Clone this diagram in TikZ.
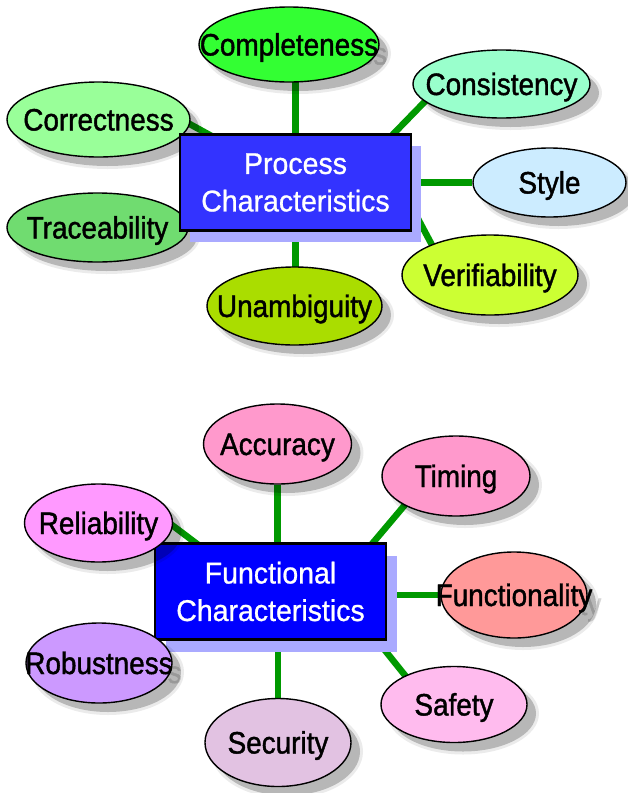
\documentclass[tikz,border=0pt]{standalone}
\usepackage{fontspec}
\newfontfamily\lblfont[FakeStretch=0.9,FakeBold=1.3]{Liberation Sans}
\newfontfamily\hubfont[FakeStretch=0.95,FakeBold=0.8]{Liberation Sans}
\usetikzlibrary{shapes.geometric}

\definecolor{linkgreen}{HTML}{009900}
\definecolor{hubshadow}{HTML}{AAAAFF}
\definecolor{procblue}{HTML}{3333FF}
\definecolor{funcblue}{HTML}{0000FF}
% process qualities
\definecolor{cCompl}{HTML}{33FF33}
\definecolor{cCorr}{HTML}{99FF99}
\definecolor{cTrace}{HTML}{70DC70}
\definecolor{cConsist}{HTML}{99FFCC}
\definecolor{cStyle}{HTML}{CCECFF}
\definecolor{cVerif}{HTML}{CCFF33}
\definecolor{cUnamb}{HTML}{AADD00}
% functional qualities
\definecolor{cAcc}{HTML}{FF99CC}
\definecolor{cTiming}{HTML}{FF99CC}
\definecolor{cReliab}{HTML}{FF99FF}
\definecolor{cFunc}{HTML}{FF9999}
\definecolor{cSafety}{HTML}{FFBBEE}
\definecolor{cSecu}{HTML}{E2C2E2}
\definecolor{cRobust}{HTML}{CC99FF}

\pgfdeclarelayer{links}
\pgfsetlayers{links,main}

\tikzset{
  link/.style={line width=6.5pt, draw=linkgreen},
  bubble/.style={ellipse, draw=black, line width=1.4pt, inner sep=0pt},
  bubshade/.style={ellipse, fill=black, fill opacity=0.22, inner sep=0pt},
  bubhalo/.style={ellipse, fill=black, fill opacity=0.08, inner sep=0pt},
  lbl/.style={font=\lblfont\fontsize{31}{37}\selectfont, anchor=base, inner sep=0pt},
  txtshade/.style={lbl, text=black!16},
  hub/.style={rectangle, draw=black, line width=2.5pt, text=white, align=center,
    font=\hubfont\fontsize{30}{37.5}\selectfont, inner sep=0pt,
    minimum width=231, minimum height=96},
  hubshade/.style={rectangle, fill=hubshadow, inner sep=0pt,
    minimum width=231, minimum height=96},
}

% #1 name, #2 x, #3 y, #4 x radius, #5 y radius, #6 fill, #7 label
\newcommand\bubble[7]{%
  \node[bubhalo, minimum width={2*#4+6}, minimum height={2*#5+6}] (#1-halo) at (#2+9,#3+9) {};
  \node[bubshade, minimum width={2*#4}, minimum height={2*#5}] (#1-sh) at (#2+9,#3+9) {};
  \node[bubble, fill=#6, minimum width={2*#4}, minimum height={2*#5}] (#1) at (#2,#3) {};
  \node[lbl] (#1-txt) at (#2,#3+11) {#7};
}
% same, for labels wider than their ellipse: the label's shadow shows past the rim
\newcommand\widebubble[7]{%
  \node[txtshade] (#1-tsh) at (#2+9,#3+20) {#7};
  \bubble{#1}{#2}{#3}{#4}{#5}{#6}{#7}
}

\begin{document}
\begin{tikzpicture}[x=1pt,y=-1pt]
\path[use as bounding box] (0,0) rectangle (628,793);

% ---- process characteristics ----
\widebubble{compl}{289}{44.5}{90}{37.5}{cCompl}{Completeness}
\bubble{corr}{98.5}{119.5}{91.5}{37.5}{cCorr}{Correctness}
\bubble{trace}{97.5}{227.5}{90.5}{34.5}{cTrace}{Traceability}
\bubble{consist}{501.5}{84}{88.5}{34}{cConsist}{Consistency}
\bubble{style}{549.5}{182.5}{76.5}{34.5}{cStyle}{Style}
\bubble{verif}{490}{275}{88}{40}{cVerif}{Verifiability}
\bubble{unamb}{294.5}{306}{87.5}{39}{cUnamb}{Unambiguity}

\node[hubshade] (pbox-sh) at (305.5,193.5) {};
\node[hub, fill=procblue] (pbox) at (295.5,182.5) {Process\\Characteristics};

% ---- functional characteristics ----
\node[hubshade] (fbox-sh) at (281.5,603.5) {};
\node[hub, fill=funcblue] (fbox) at (270.5,591.5) {Functional\\Characteristics};

\bubble{acc}{277.5}{444}{74}{40}{cAcc}{Accuracy}
\bubble{timing}{456}{476}{74}{40}{cTiming}{Timing}
\bubble{reliab}{98.5}{523}{74}{39}{cReliab}{Reliability}
\widebubble{func}{514}{595}{73}{43}{cFunc}{Functionality}
\bubble{safety}{454}{704.5}{73}{38}{cSafety}{Safety}
\bubble{secu}{278}{742.5}{73}{44}{cSecu}{Security}
\widebubble{robust}{99}{663}{73}{40}{cRobust}{Robustness}

% ---- connectors, kept beneath everything ----
\begin{pgfonlayer}{links}
\draw[link] (pbox.north) -- (pbox.north |- compl);
\draw[link] ([shift={(-25,7)}]pbox.north east) -- ([shift={(-61.5,2)}]consist.center);
\draw[link] ([shift={(46,10)}]pbox.north west) -- ([shift={(72,-6)}]corr.center);
\draw[link] (pbox) -- (style);
\draw[link] ([shift={(2,-20)}]pbox.south east) -- ([shift={(-50,-15)}]verif.center);
\draw[link] (pbox.south) -- (pbox.south |- unamb);

\draw[link] (acc) -- (acc |- fbox);
\draw[link] (secu) -- (secu |- fbox);
\draw[link] ([shift={(-24,12)}]fbox.north east) -- ([shift={(-36,11)}]timing.center);
\draw[link] ([shift={(57,12)}]fbox.north west) -- ([shift={(51.5,-14.5)}]reliab.center);
\draw[link] (func) -- (func -| fbox);
\draw[link] ([shift={(-10,0)}]fbox.south east) -- ([shift={(-34,-10.5)}]safety.center);
\end{pgfonlayer}
\end{tikzpicture}
\end{document}
